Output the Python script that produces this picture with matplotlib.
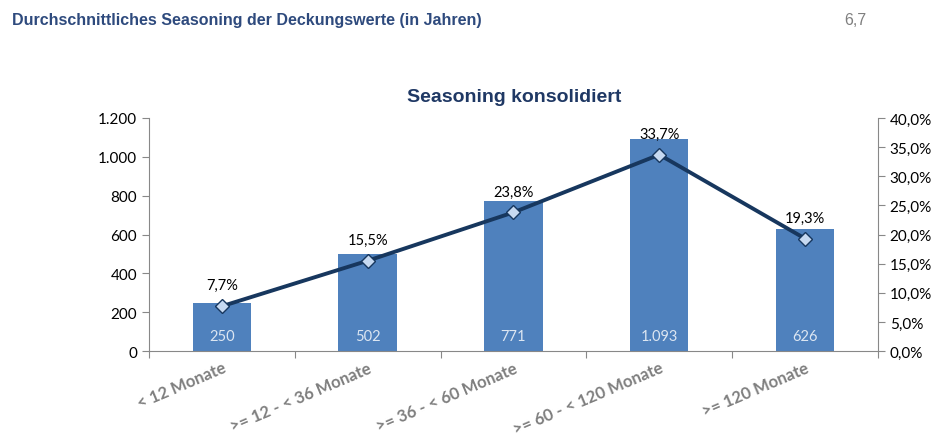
import matplotlib
matplotlib.use("Agg")
import matplotlib.pyplot as plt
from matplotlib.ticker import FuncFormatter, FixedLocator

categories = ["< 12 Monate", ">= 12 - < 36 Monate", ">= 36 - < 60 Monate",
              ">= 60 - < 120 Monate", ">= 120 Monate"]
volumes = [250, 502, 771, 1093, 626]
shares = [7.7, 15.5, 23.8, 33.7, 19.3]


def de_num(v):
    return f"{v:,.0f}".replace(",", ".")


def de_pct(v):
    return f"{v:.1f}%".replace(".", ",")


plt.rcParams["font.family"] = ["Lato", "DejaVu Sans"]

fig = plt.figure(figsize=(9.38, 4.39), dpi=100)
ax = fig.add_axes([0.1588, 0.198, 0.7772, 0.531])
ax2 = ax.twinx()

x = list(range(len(categories)))
ax.bar(x, volumes, width=0.4, color="#4F81BD", zorder=2)
for xi, v in zip(x, volumes):
    ax.text(xi, 80, de_num(v), ha="center", va="center", color="#DCE6F2", fontsize=10.5)

ax.set_xlim(-0.5, len(categories) - 0.5)
ax.set_ylim(0, 1200)
ax.set_yticks(range(0, 1201, 200))
ax.yaxis.set_major_formatter(FuncFormatter(lambda v, p: de_num(v)))
ax.tick_params(axis="y", labelsize=11, length=5, color="#888888")

ax.xaxis.set_major_locator(FixedLocator([i - 0.5 for i in range(len(categories) + 1)]))
ax.xaxis.set_major_formatter(FuncFormatter(lambda v, p: ""))
ax.xaxis.set_minor_locator(FixedLocator(x))
ax.set_xticklabels(categories, minor=True)
ax.tick_params(axis="x", which="major", length=5, color="#888888")
ax.tick_params(axis="x", which="minor", length=0, pad=6)
for lbl in ax.get_xticklabels(minor=True):
    lbl.set_rotation(23)
    lbl.set_ha("right")
    lbl.set_rotation_mode("anchor")
    lbl.set_color("#7F7F7F")
    lbl.set_fontweight("bold")
    lbl.set_fontsize(12)

ax2.plot(x, shares, color="#17375E", lw=2.8, marker="D", markersize=7,
         markerfacecolor="#C6D9F1", markeredgecolor="#17375E", markeredgewidth=1, zorder=3)
for xi, s in zip(x, shares):
    ax2.text(xi, s + 2.4, de_pct(s), ha="center", va="bottom", fontsize=10.5, color="black")
ax2.set_ylim(0, 40)
ax2.set_yticks(range(0, 41, 5))
ax2.yaxis.set_major_formatter(FuncFormatter(lambda v, p: de_pct(v)))
ax2.tick_params(axis="y", labelsize=11, length=5, color="#888888")

for a in (ax, ax2):
    a.spines["top"].set_visible(False)
    for side in ("left", "right", "bottom"):
        a.spines[side].set_color("#888888")
ax.spines["right"].set_visible(False)
ax2.spines["left"].set_visible(False)
ax2.spines["bottom"].set_visible(False)

fig.text(0.5485, 0.778, "Seasoning konsolidiert", ha="center", va="center",
         fontsize=14, fontweight="bold", color="#1F3864", family=["Liberation Sans"])
fig.text(0.013, 0.954, "Durchschnittliches Seasoning der Deckungswerte (in Jahren)",
         ha="left", va="center", fontsize=11.5, fontweight="bold", color="#2E4A7D",
         family=["Liberation Sans"])
fig.text(0.9, 0.954, "6,7", ha="left", va="center", fontsize=11.5, color="#7F7F7F",
         family=["Liberation Sans"])

fig.savefig("out.png", dpi=100)
